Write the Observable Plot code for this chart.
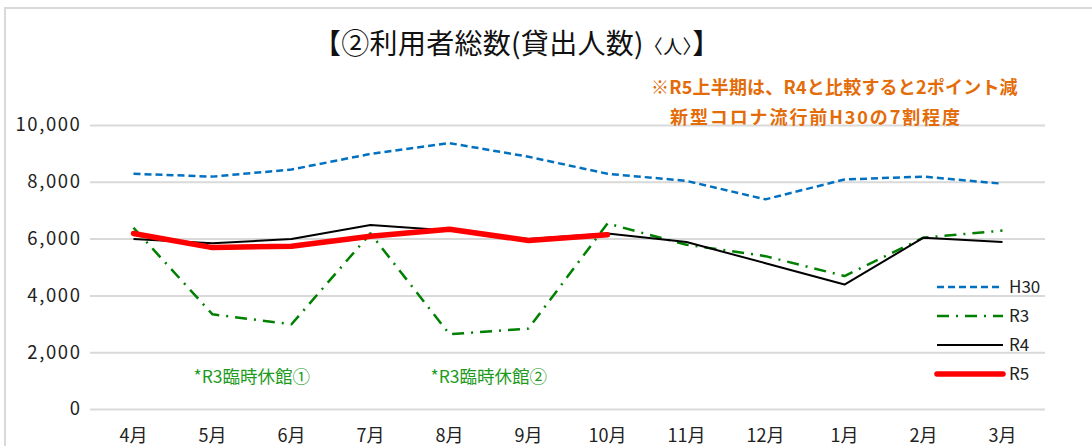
<!DOCTYPE html>
<html><head><meta charset="utf-8">
<script src="https://cdn.jsdelivr.net/npm/d3@7"></script>
<script src="https://cdn.jsdelivr.net/npm/@observablehq/plot@0.6"></script>
<style>
html,body{margin:0;padding:0;background:#fff;}
#wrap{position:relative;width:1092px;height:446px;overflow:hidden;font-family:"Noto Sans CJK JP","Noto Sans",sans-serif;}
#frame{position:absolute;left:4px;top:7px;width:1100px;height:460px;border-left:2px solid #d9d9d9;border-top:2px solid #d9d9d9;}
.t{position:absolute;white-space:nowrap;}
#title{left:313px;top:22px;font-size:28px;color:#111;letter-spacing:0.3px;}
#title small{font-size:19px;}
.note{color:#E36C09;font-weight:bold;font-size:18px;}
#chart{position:absolute;left:0;top:0;}
#chart g[aria-label="y-axis tick label"] text{letter-spacing:1.6px;}
</style></head>
<body><div id="wrap"><div id="frame"></div><div id="chart"></div>
<div class="t" id="title">【②利用者総数(貸出人数)<small>〈人〉</small>】</div>
<div class="t note" style="left:651px;top:73px;letter-spacing:0.2px;">※R5上半期は、R4と比較すると2ポイント減</div>
<div class="t note" style="left:670px;top:103px;letter-spacing:1.9px;">新型コロナ流行前H30の7割程度</div>
</div>
<script>
const months = ["4月","5月","6月","7月","8月","9月","10月","11月","12月","1月","2月","3月"];
const seriesNames = ["H30","R3","R4","R5"];
const H30 = [8300, 8200, 8450, 9000, 9380, 8900, 8300, 8050, 7400, 8100, 8200, 7950];
const R3  = [6400, 3350, 3000, 6200, 2650, 2850, 6550, 5800, 5400, 4700, 6050, 6300];
const R4  = [6000, 5850, 6000, 6500, 6300, 6000, 6200, 5900, 5150, 4400, 6050, 5900];
const R5  = [6200, 5700, 5750, 6100, 6350, 5950, 6150];
const yTicks = [0, 2000, 4000, 6000, 8000, 10000];
const notes = [{x:"5月", text:"*R3臨時休館①"}, {x:"8月", text:"*R3臨時休館②"}];

const styles = {
  H30:{stroke:"#0070C0", strokeWidth:2.5, strokeDasharray:"7,4"},
  R3:{stroke:"#008000", strokeWidth:2.5, strokeDasharray:"12,7,2,7"},
  R4:{stroke:"#000000", strokeWidth:2},
  R5:{stroke:"#FF0000", strokeWidth:5.5}
};
const toRows = (arr) => arr.map((v,i)=>({m:months[i], v}));
const data = {H30:toRows(H30), R3:toRows(R3), R4:toRows(R4), R5:toRows(R5)};

const chart = Plot.plot({
  width:1092, height:446,
  marginLeft:90, marginRight:47, marginTop:125, marginBottom:37,
  style:{fontFamily:'"Noto Sans CJK JP","Noto Sans",sans-serif', background:"transparent"},
  x:{type:"point", domain:months, padding:0.5, label:null},
  y:{domain:[0,10000], label:null},
  marks:[
    Plot.ruleY(yTicks, {stroke:"#d9d9d9", strokeWidth:2}),
    Plot.axisY({ticks:yTicks, tickSize:0, tickPadding:9, fontSize:18.5, fill:"#222", label:null, tickFormat:d=>d3.format(",")(d)}),
    Plot.axisX({tickSize:0, tickPadding:20, fontSize:18, fill:"#222", label:null}),
    ...seriesNames.map(s => Plot.line(data[s], {x:"m", y:"v", ...styles[s], strokeLinecap: s==="R5"?"round":"butt", strokeLinejoin:"round", strokeOpacity:1})),
    Plot.text(notes, {x:"x", y:1130, text:"text", fill:"#1E9B1E", fontSize:17.5, textAnchor:"start", dx:-19})
  ]
});
document.getElementById("chart").appendChild(chart);

// legend
const svg = d3.select(chart);
const lg = svg.append("g").attr("text-anchor","start");
seriesNames.forEach((s,i)=>{
  const y = 287 + i*29;
  const st = styles[s];
  lg.append("line").attr("x1",937).attr("x2",1003).attr("y1",y).attr("y2",y)
    .attr("stroke",st.stroke).attr("stroke-width",st.strokeWidth)
    .attr("stroke-dasharray",st.strokeDasharray||null)
    .attr("stroke-linecap", s==="R5"?"round":"butt");
  lg.append("text").attr("x",1009).attr("y",y).attr("dy","0.35em")
    .attr("font-size",17).attr("fill","#222").attr("text-anchor","start").text(s);
});
</script></body></html>
